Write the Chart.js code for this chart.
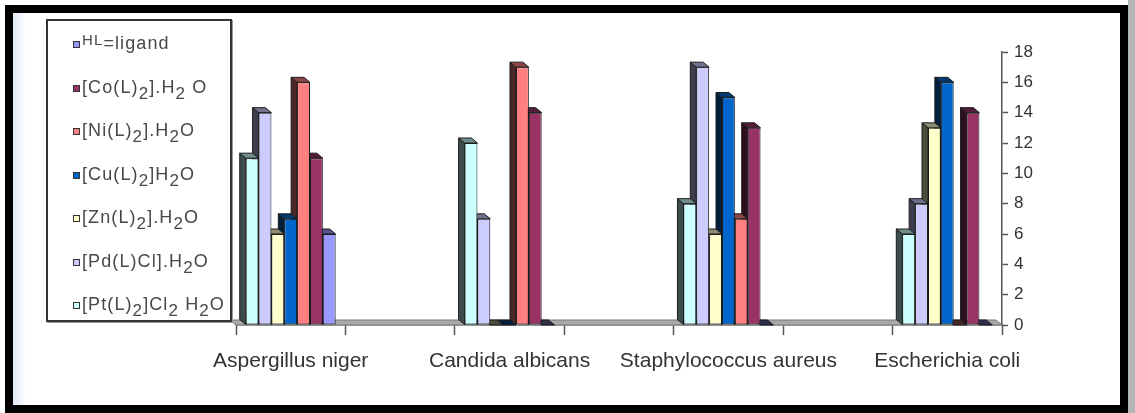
<!DOCTYPE html>
<html>
<head>
<meta charset="utf-8">
<script src="https://cdn.jsdelivr.net/npm/chart.js@4"></script>
<style>
  html, body { margin: 0; padding: 0; background: #fff; }
  #wrap { position: relative; width: 1135px; height: 413px; overflow: hidden; background: #fff; }
  #edge { position: absolute; left: 1128px; top: 0; width: 7px; height: 413px; background: #b4b4b4; }
  #frame { position: absolute; left: 5px; top: 5px; width: 1123px; height: 408px; box-sizing: border-box;
           border: 8px solid #000;
           background: linear-gradient(to right, #dfe9f5 0px, #eef4fa 7px, #ffffff 13px); }
  canvas { position: absolute; left: 0; top: 0; }
  #legend { position: absolute; left: 46px; top: 19px; width: 186px; height: 303px; box-sizing: border-box;
            border: 2px solid #333; background: #fff; box-shadow: 1px 1px 0 #999;
            font-family: "Liberation Sans", Arial, sans-serif; font-size: 18px; color: #484848; letter-spacing: 1.1px; }
  .item { position: absolute; left: 25px; height: 22px; line-height: 22px; white-space: nowrap; }
  .sw { display: inline-block; width: 5px; height: 5px; border: 1.5px solid #333; margin-right: 2px; vertical-align: 1px; }
  .item sub { font-size: 17px; vertical-align: -6px; line-height: 0; }
  .item sup { font-size: 15px; vertical-align: 4px; line-height: 0; }
</style>
</head>
<body>
<div id="wrap">
  <div id="edge"></div>
  <div id="frame"></div>
  <canvas id="chart" width="1135" height="413"></canvas>
  <div id="legend"></div>
</div>
<script>
// Inhibition zones (mm) for each organism
const categories = ["Aspergillus niger", "Candida albicans", "Staphylococcus aureus", "Escherichia coli"];

const ligandHL = [6, 0, 0, 0];
const complexCo = [11, 14, 13, 14];
const complexNi = [16, 17, 7, 0];
const complexCu = [7, 0, 15, 16];
const complexZn = [6, 0, 6, 13];
const complexPd = [14, 7, 17, 8];
const complexPt = [11, 12, 8, 6];

const seriesNames = ["HL=ligand", "[Co(L)₂].H₂ O", "[Ni(L)₂].H₂O", "[Cu(L)₂]H₂O",
                     "[Zn(L)₂].H₂O", "[Pd(L)Cl].H₂O", "[Pt(L)₂]Cl₂ H₂O"];
const seriesValues = [ligandHL, complexCo, complexNi, complexCu, complexZn, complexPd, complexPt];
const seriesColors = ["#9999FF", "#993366", "#FF8080", "#0066CC", "#FFFFCC", "#CCCCFF", "#CCFFFF"];

const yTicks = [0, 2, 4, 6, 8, 10, 12, 14, 16, 18];

// organisms sit in every other slot of the category axis, with empty slots between them
const slotLabels = [];
categories.forEach((c, i) => { if (i > 0) slotLabels.push(""); slotLabels.push(c); });
function spread(values) {
  const out = [];
  values.forEach((v, i) => { if (i > 0) out.push(null); out.push(v); });
  return out;
}

// datasets run left to right inside a group: Pt first, HL last
const order = [6, 5, 4, 3, 2, 1, 0];
const datasets = order.map(k => ({
  label: seriesNames[k],
  data: spread(seriesValues[k]),
  backgroundColor: seriesColors[k],
  borderColor: "#1c1c1c",
  borderWidth: 1,
  borderSkipped: false,
  categoryPercentage: 0.822,
  barPercentage: 1.0
}));

const DX = -6, DY = -5;   // oblique depth of the columns

function shade(hex, f) {
  const n = parseInt(hex.slice(1), 16);
  const r = Math.round(((n >> 16) & 255) * f);
  const g = Math.round(((n >> 8) & 255) * f);
  const b = Math.round((n & 255) * f);
  return `rgb(${r},${g},${b})`;
}

const columns3d = {
  id: "columns3d",
  beforeDatasetsDraw(chart) {
    const { ctx, chartArea } = chart;
    const y0 = chart.scales.y.getPixelForValue(0);
    ctx.save();
    ctx.beginPath();
    ctx.moveTo(chartArea.left, y0);
    ctx.lineTo(chartArea.right, y0);
    ctx.lineTo(chartArea.right + DX, y0 + DY);
    ctx.lineTo(chartArea.left + DX, y0 + DY);
    ctx.closePath();
    ctx.fillStyle = "#a9a9a9";
    ctx.fill();
    ctx.strokeStyle = "#777";
    ctx.lineWidth = 1;
    ctx.stroke();
    ctx.restore();
  },
  // side and top faces go down before each dataset's front faces
  beforeDatasetDraw(chart, args) {
    const { ctx } = chart;
    const ds = chart.data.datasets[args.index];
    const col = ds.backgroundColor;
    ctx.save();
    ctx.lineWidth = 1;
    ctx.strokeStyle = "#1c1c1c";
    args.meta.data.forEach((el, i) => {
      if (ds.data[i] == null) return;
      const p = el.getProps(["x", "y", "base", "width"], true);
      const x0 = p.x - p.width / 2, x1 = p.x + p.width / 2;
      const top = p.y, base = p.base;
      if (base - top > 0.5) {
        ctx.beginPath();
        ctx.moveTo(x0, base);
        ctx.lineTo(x0 + DX, base + DY);
        ctx.lineTo(x0 + DX, top + DY);
        ctx.lineTo(x0, top);
        ctx.closePath();
        ctx.fillStyle = shade(col, 0.3);
        ctx.fill();
        ctx.stroke();
      }
      ctx.beginPath();
      ctx.moveTo(x0, top);
      ctx.lineTo(x1, top);
      ctx.lineTo(x1 + DX, top + DY);
      ctx.lineTo(x0 + DX, top + DY);
      ctx.closePath();
      ctx.fillStyle = base - top > 0.5 ? shade(col, 0.55) : shade(col, 0.3);
      ctx.fill();
      ctx.stroke();
    });
    ctx.restore();
  }
};

new Chart(document.getElementById("chart"), {
  type: "bar",
  data: { labels: slotLabels, datasets },
  plugins: [columns3d],
  options: {
    responsive: false,
    animation: false,
    devicePixelRatio: 1,
    layout: { padding: { left: 236, top: 52, right: 73, bottom: 28 } },
    plugins: { legend: { display: false }, tooltip: { enabled: false } },
    scales: {
      x: {
        type: "category",
        offset: true,
        grid: { offset: true, drawOnChartArea: false, tickLength: 10, color: "#555", tickWidth: 1.5 },
        border: { display: true, color: "#666", width: 1.5 },
        ticks: { autoSkip: false, maxRotation: 0, minRotation: 0, padding: 14,
                 color: "#333", font: { family: "Liberation Sans, Arial, sans-serif", size: 21 } },
        afterFit: s => { s.height = 60; }
      },
      y: {
        position: "right",
        min: 0, max: 18,
        afterBuildTicks: s => { s.ticks = yTicks.map(v => ({ value: v })); },
        grid: { drawOnChartArea: false, tickLength: 6, color: "#555", tickWidth: 1.5 },
        border: { display: true, color: "#555", width: 1.5 },
        ticks: { padding: 6, color: "#333", font: { family: "Liberation Sans, Arial, sans-serif", size: 17 } },
        afterFit: s => { s.width = 60; }
      }
    }
  }
});

// legend box, listed HL first
const legend = document.getElementById("legend");
seriesNames.forEach((name, k) => {
  const row = document.createElement("div");
  row.className = "item";
  row.style.top = (11 + k * 43.5) + "px";
  const sw = document.createElement("span");
  sw.className = "sw";
  sw.style.background = seriesColors[k];
  row.appendChild(sw);
  const txt = document.createElement("span");
  let html = name.replace(/₂/g, "<sub>2</sub>");
  html = html.replace(/^HL/, "<sup>HL</sup>");
  txt.innerHTML = html;
  row.appendChild(txt);
  legend.appendChild(row);
});
</script>
</body>
</html>
